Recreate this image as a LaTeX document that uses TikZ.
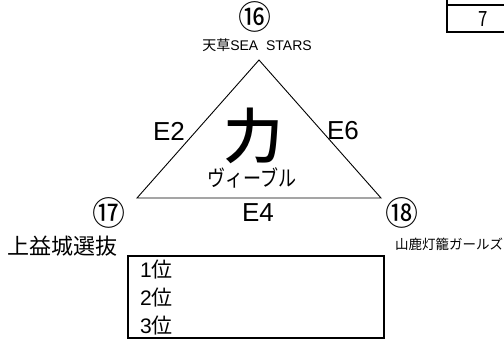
\documentclass[tikz,border=0pt]{standalone}
\usepackage{fontspec}
\setmainfont{Noto Sans CJK JP}
\newfontfamily\latinf{Liberation Sans}
\newfontfamily\cjkbold{Noto Sans CJK JP Medium}
\begin{document}
\begin{tikzpicture}[x=1pt,y=-1pt,
  lbl/.style={inner sep=0pt,outer sep=0pt},
  circnum/.style={lbl,font=\fontsize{33}{33}\selectfont},
  edgelbl/.style={lbl,font=\fontsize{26}{26}\selectfont\latinf},
  ranklbl/.style={lbl,anchor=west,font=\fontsize{21}{21}\selectfont},
  edge/.style={line width=0.9pt},
  thickbox/.style={line width=2.8pt}]
\useasboundingbox (0,0) rectangle (504,341);
% top-right box
\draw[thickbox] (447,-5) -- (447,5);
\draw[thickbox] (512,5) -- (447,5) -- (447,32) -- (512,32);
\node[lbl,font=\fontsize{21}{21}\selectfont] (seven) at (483,19) {\scalebox{0.8}[1]{7}};
% triangle
\coordinate (A) at (259,60);
\coordinate (B) at (137,198);
\coordinate (C) at (381,198);
\draw[edge] (A) -- (B) -- (C) -- cycle;
% top vertex
\node[circnum] (n16) at (255,17) {⑯};
\node[lbl,font=\fontsize{14}{14}\selectfont] (t16) at (257,45) {天草{\latinf SEA\ \ STARS}};
% center
\node[lbl,font=\fontsize{60}{60}\cjkbold] (chikara) at (253,136) {力};
\node[lbl,font=\fontsize{22}{22}\selectfont] (vbl) at (252,178) {\scalebox{0.82}[1]{ヴィーブル}};
% edge labels
\node[edgelbl] (e2) at (169,131) {E2};
\node[edgelbl] (e6) at (343,131) {E6};
\node[edgelbl] (e4) at (258,213) {E4};
% bottom-left vertex
\node[circnum] (n17) at (109,212.5) {⑰};
\node[lbl,font=\fontsize{22}{22}\selectfont,anchor=west] (t17) at (8,246) {上益城選抜};
% bottom-right vertex
\node[circnum] (n18) at (402,212.5) {⑱};
\node[lbl,font=\fontsize{13.5}{13.5}\selectfont,anchor=west] (t18) at (395,244) {山鹿灯籠ガールズ};
% ranking box
\draw[thickbox] (128,256) rectangle (384,338);
\node[ranklbl] (r1) at (140,270) {{\latinf 1}位};
\node[ranklbl] (r2) at (140,298) {{\latinf 2}位};
\node[ranklbl] (r3) at (140,326) {{\latinf 3}位};
\end{tikzpicture}
\end{document}
